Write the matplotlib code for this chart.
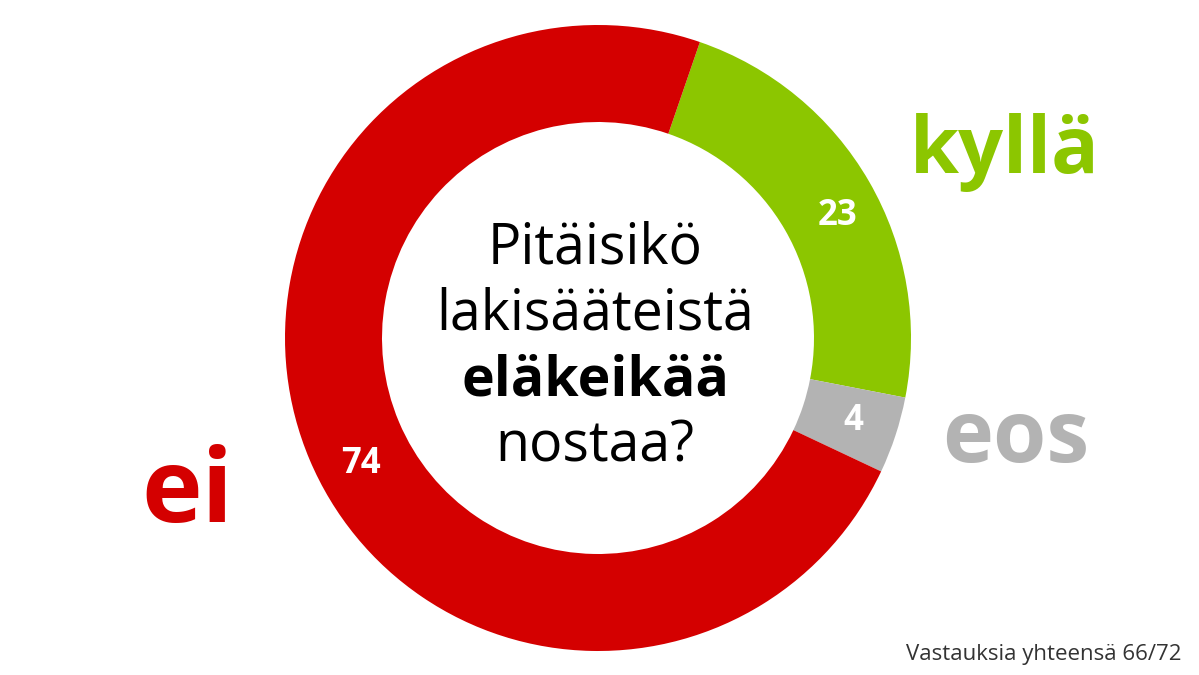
import matplotlib
matplotlib.use("Agg")
import numpy as np
import matplotlib.pyplot as plt

# answers to the question, clockwise from the top
labels = ["kyllä", "eos", "ei"]
values = [23, 4, 74]
colors = ["#8cc600", "#b3b3b3", "#d40000"]

question = ["Pitäisikö", "lakisääteistä", "eläkeikää", "nostaa?"]
question_bold = [False, False, True, False]
footnote = "Vastauksia yhteensä 66/72"

W, H = 1199, 675
plt.rcParams["font.family"] = ["Open Sans", "DejaVu Sans"]

fig = plt.figure(figsize=(W / 100, H / 100), dpi=100)
ax = fig.add_axes([0, 0, 1, 1])

cx, cy = 598, 338
r_out, r_in = 313, 216

# y axis is flipped (pixel coords), so counterclock=True runs clockwise on screen
offset = 19  # degrees clockwise from 12 o'clock where "kyllä" begins
ax.pie(values, colors=colors, startangle=-(90 - offset), counterclock=True,
       radius=r_out, center=(cx, cy),
       wedgeprops=dict(width=r_out - r_in, edgecolor="none"),
       frame=True)
ax.set_xlim(0, W)
ax.set_ylim(H, 0)
ax.set_aspect("equal")
ax.axis("off")

# value labels inside the ring
total = sum(values)
nudge = {"ei": 5, "kyllä": -3}
r_mid = (r_out + r_in) / 2 + 4
a0 = offset
for lab, v in zip(labels, values):
    mid = a0 + v / total * 180
    a0 += v / total * 360
    ang = np.radians(mid - nudge.get(lab, 0))
    ax.text(cx + r_mid * np.sin(ang), cy - r_mid * np.cos(ang), str(v),
            color="white", fontsize=25, fontweight="bold",
            ha="center", va="center")

# category names
ax.text(910, 173, "kyllä", color=colors[0], fontsize=57, fontweight="bold",
        ha="left", va="baseline")
ax.text(942, 462, "eos", color=colors[1], fontsize=62, fontweight="bold",
        ha="left", va="baseline")
ax.text(141, 522, "ei", color=colors[2], fontsize=74, fontweight="bold",
        ha="left", va="baseline")

# question in the middle
for i, (line, b) in enumerate(zip(question, question_bold)):
    ax.text(595, 263 + i * 66.3, line, color="black", fontsize=40,
            fontweight="bold" if b else "normal", ha="center", va="baseline")

ax.text(1182, 660, footnote, color="#333333", fontsize=16,
        ha="right", va="baseline")

fig.savefig("out.png", dpi=100, facecolor="white")
